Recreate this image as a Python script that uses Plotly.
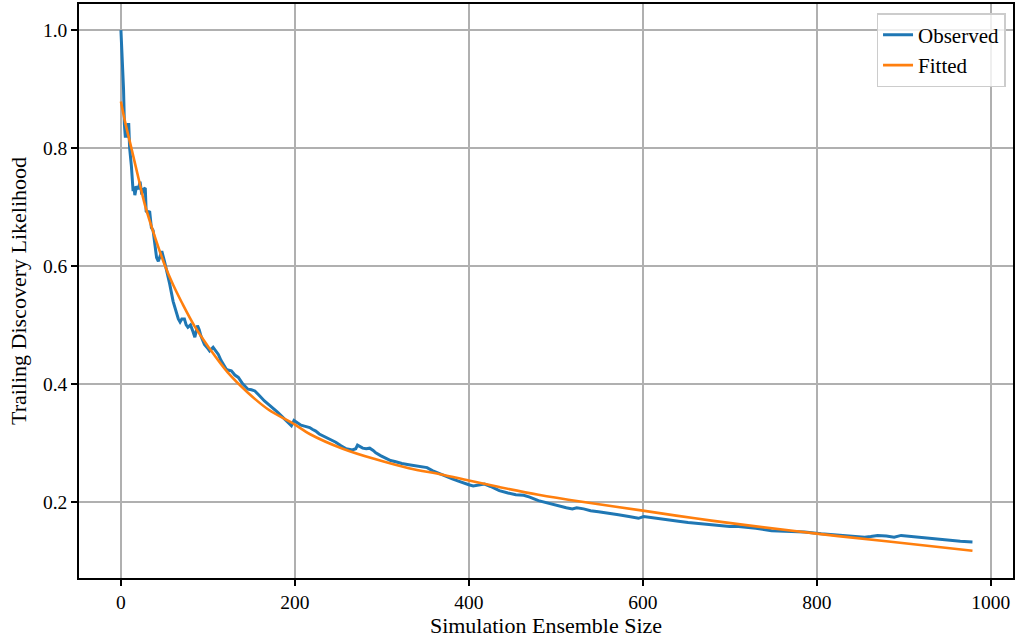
import plotly.graph_objects as go

# Observed trailing discovery likelihood vs. ensemble size
obs_x = [0, 1, 2, 3, 4, 5, 7, 8, 9, 10, 12, 14, 15, 16, 18, 20, 22, 24, 26, 28,
         29, 31, 33, 35, 37, 39, 41, 43, 45, 47, 50, 53, 56, 60, 63, 66, 68, 70,
         73, 75, 77, 80, 83, 85, 88, 90, 92, 96, 100, 102, 106, 109, 112, 115,
         118, 121, 124, 127, 131, 135, 140, 146, 150, 154, 158, 161, 165, 169,
         174, 180, 185, 190, 196, 199, 203, 207, 212, 217, 220, 224, 228, 232,
         236, 241, 247, 253, 259, 266, 270, 272, 275, 278, 282, 286, 290, 293,
         299, 305, 310, 316, 323, 331, 339, 347, 352, 358, 364, 370, 376, 381,
         388, 395, 400, 405, 412, 418, 425, 435, 445, 454, 463, 470, 480, 490,
         503, 512, 519, 524, 532, 540, 549, 560, 572, 584, 595, 601, 610, 618,
         630, 641, 652, 664, 676, 687, 700, 710, 717, 730, 748, 766, 786, 805,
         824, 840, 855, 862, 870, 880, 889, 897, 910, 924, 937, 951, 965, 979]
obs_y = [1.0, 0.961, 0.952, 0.90, 0.84, 0.82, 0.82, 0.84, 0.84, 0.80, 0.77,
         0.727, 0.735, 0.72, 0.735, 0.73, 0.743, 0.721, 0.73, 0.732, 0.693,
         0.69, 0.693, 0.665, 0.66, 0.64, 0.614, 0.608, 0.615, 0.625, 0.608,
         0.59, 0.57, 0.54, 0.525, 0.51, 0.505, 0.51, 0.51, 0.50, 0.496, 0.50,
         0.488, 0.479, 0.499, 0.492, 0.481, 0.467, 0.46, 0.456, 0.462, 0.455,
         0.45, 0.44, 0.432, 0.425, 0.423, 0.422, 0.415, 0.411, 0.40, 0.391,
         0.39, 0.388, 0.382, 0.377, 0.371, 0.366, 0.36, 0.352, 0.345, 0.338,
         0.329, 0.338, 0.334, 0.330, 0.328, 0.326, 0.323, 0.32, 0.315, 0.312,
         0.309, 0.305, 0.301, 0.295, 0.290, 0.288, 0.29, 0.296, 0.294, 0.291,
         0.29, 0.291, 0.287, 0.283, 0.278, 0.273, 0.27, 0.268, 0.265, 0.263,
         0.261, 0.259, 0.258, 0.253, 0.249, 0.245, 0.242, 0.239, 0.235, 0.231,
         0.229, 0.227, 0.229, 0.23, 0.226, 0.219, 0.215, 0.212, 0.211, 0.208,
         0.202, 0.198, 0.193, 0.19, 0.188, 0.190, 0.188, 0.185, 0.183, 0.18,
         0.178, 0.175, 0.172, 0.175, 0.173, 0.172, 0.169, 0.167, 0.165, 0.163,
         0.161, 0.159, 0.158, 0.158, 0.157, 0.155, 0.151, 0.150, 0.149, 0.146,
         0.144, 0.142, 0.140, 0.141, 0.143, 0.142, 0.140, 0.143, 0.141, 0.139,
         0.137, 0.135, 0.133, 0.132]

# Fitted curve
fit_x = [0, 5, 12, 20, 27.5, 40, 50, 60, 70, 85, 100, 123, 146, 169, 200, 217,
         255, 293, 331, 370, 400, 435, 480, 530, 600, 660, 721, 800, 880, 979]
fit_y = [0.879, 0.843, 0.80, 0.75, 0.704, 0.645, 0.603, 0.568, 0.538, 0.497,
         0.464, 0.419, 0.385, 0.357, 0.331, 0.315, 0.29, 0.272, 0.257, 0.246,
         0.236, 0.225, 0.212, 0.200, 0.185, 0.172, 0.160, 0.146, 0.133, 0.117]

x_ticks = [0, 200, 400, 600, 800, 1000]
y_ticks = [0.2, 0.4, 0.6, 0.8, 1.0]

FONT = "Liberation Serif, DejaVu Serif, serif"

fig = go.Figure()
fig.add_trace(go.Scatter(x=obs_x, y=obs_y, mode="lines", name="Observed",
                         line=dict(color="#1f77b4", width=3)))
fig.add_trace(go.Scatter(x=fit_x, y=fit_y, mode="lines", name="Fitted",
                         line=dict(color="#ff7f0e", width=2.6, shape="spline")))

axis_common = dict(showgrid=True, gridcolor="#b0b0b0", gridwidth=1.5,
                   showline=True, linecolor="black", linewidth=1.5, mirror=True,
                   ticks="outside", ticklen=6, tickwidth=1.5, tickcolor="black",
                   zeroline=False, tickfont=dict(family=FONT, size=19.5, color="black"))

fig.update_xaxes(range=[-48.2, 1025.6], tickvals=x_ticks,
                 ticktext=[str(v) for v in x_ticks],
                 title=dict(text="Simulation Ensemble Size",
                            font=dict(family=FONT, size=22, color="black"),
                            standoff=4),
                 **axis_common)
fig.update_yaxes(range=[0.0708, 1.0442], tickvals=y_ticks,
                 ticktext=[f"{v:.1f}" for v in y_ticks],
                 title=dict(text="Trailing Discovery Likelihood",
                            font=dict(family=FONT, size=22, color="black"),
                            standoff=10),
                 **axis_common)

fig.update_layout(
    width=1017, height=643,
    margin=dict(l=79, r=2, t=3, b=65),
    plot_bgcolor="white", paper_bgcolor="white",
    font=dict(family=FONT, color="black"),
    legend=dict(x=0.992, y=0.984, xanchor="right", yanchor="top",
                bgcolor="rgba(255,255,255,0.8)", bordercolor="#cccccc",
                borderwidth=1.5, font=dict(family=FONT, size=21, color="black")),
)

fig.write_html("out.html")
